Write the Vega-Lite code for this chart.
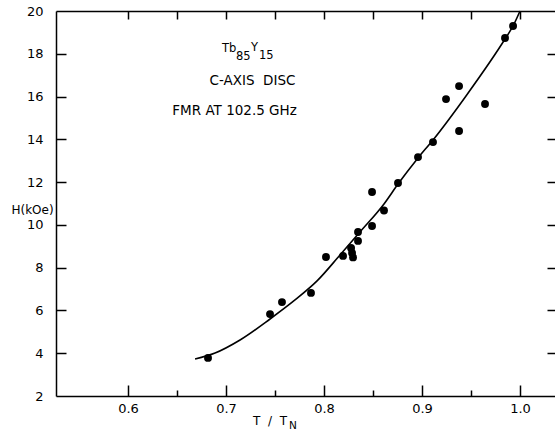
{
  "$schema": "https://vega.github.io/schema/vega-lite/v6.json",
  "width": 499,
  "height": 385,
  "autosize": {"type": "none"},
  "padding": {"left": 56, "top": 11, "right": 0, "bottom": 34},
  "background": "white",
  "view": {"stroke": null},
  "config": {
    "font": "DejaVu Sans",
    "axis": {"grid": false, "domainColor": "black", "tickColor": "black", "labelColor": "black", "titleColor": "black", "domainWidth": 1.5, "tickWidth": 1.5, "labelFont": "DejaVu Sans", "titleFont": "DejaVu Sans"}
  },
  "datasets": {
    "points": [
      {"t": 0.6816, "h": 3.78},
      {"t": 0.7449, "h": 5.83},
      {"t": 0.7571, "h": 6.39},
      {"t": 0.7867, "h": 6.82},
      {"t": 0.8020, "h": 8.50},
      {"t": 0.8194, "h": 8.55},
      {"t": 0.8276, "h": 8.92},
      {"t": 0.8286, "h": 8.69},
      {"t": 0.8296, "h": 8.48},
      {"t": 0.8347, "h": 9.25},
      {"t": 0.8347, "h": 9.67},
      {"t": 0.8490, "h": 9.95},
      {"t": 0.8490, "h": 11.54},
      {"t": 0.8612, "h": 10.67},
      {"t": 0.8755, "h": 11.96},
      {"t": 0.8959, "h": 13.17},
      {"t": 0.9112, "h": 13.87},
      {"t": 0.9245, "h": 15.88},
      {"t": 0.9378, "h": 16.49},
      {"t": 0.9378, "h": 14.39},
      {"t": 0.9643, "h": 15.65},
      {"t": 0.9847, "h": 18.74},
      {"t": 0.9929, "h": 19.30}
    ],
    "curve": [
      {"t": 0.6684, "h": 3.73},
      {"t": 0.6888, "h": 4.01},
      {"t": 0.7143, "h": 4.62},
      {"t": 0.7449, "h": 5.60},
      {"t": 0.7704, "h": 6.49},
      {"t": 0.7929, "h": 7.38},
      {"t": 0.8163, "h": 8.59},
      {"t": 0.8367, "h": 9.67},
      {"t": 0.8612, "h": 10.98},
      {"t": 0.8755, "h": 11.91},
      {"t": 0.8959, "h": 13.13},
      {"t": 0.9112, "h": 13.97},
      {"t": 0.9449, "h": 16.03},
      {"t": 0.9847, "h": 18.69},
      {"t": 0.9929, "h": 19.30},
      {"t": 1.0000, "h": 20.00}
    ]
  },
  "resolve": {"axis": {"x": "independent", "y": "independent"}},
  "layer": [
    {
      "data": {"name": "curve"},
      "mark": {"type": "line", "interpolate": "monotone", "color": "black", "strokeWidth": 1.6},
      "encoding": {
        "x": {"field": "t", "type": "quantitative", "scale": {"domain": [0.5265, 1.0357], "nice": false, "zero": false},
          "axis": {"orient": "bottom", "values": [0.6, 0.7, 0.8, 0.9, 1.0], "format": ".1f", "ticks": false, "labelPadding": 6, "labelFontSize": 13, "title": null}},
        "y": {"field": "h", "type": "quantitative", "scale": {"domain": [2, 20], "nice": false, "zero": false},
          "axis": {"orient": "left", "values": [2, 4, 6, 8, 10, 12, 14, 16, 18, 20], "ticks": false, "labelPadding": 13, "labelFontSize": 13, "title": "H(kOe)", "titleAngle": 0, "titleX": -24, "titleY": 198, "titleAlign": "center", "titleBaseline": "middle", "titleFontSize": 12, "titleFontWeight": "normal"}}
      }
    },
    {
      "data": {"name": "points"},
      "mark": {"type": "circle", "color": "black", "opacity": 1, "size": 62},
      "encoding": {
        "x": {"field": "t", "type": "quantitative",
          "axis": {"orient": "top", "values": [0.6, 0.65, 0.7, 0.75, 0.8, 0.85, 0.9, 0.95, 1.0], "tickSize": -8, "labels": false, "title": null}},
        "y": {"field": "h", "type": "quantitative",
          "axis": {"orient": "right", "values": [4, 6, 8, 10, 12, 14, 16, 18], "tickSize": -8, "labels": false, "domain": false, "title": null}}
      }
    },
    {
      "data": {"name": "points"},
      "mark": {"type": "point", "opacity": 0},
      "encoding": {
        "x": {"field": "t", "type": "quantitative",
          "axis": {"orient": "bottom", "values": [0.65, 0.75, 0.85, 0.95], "tickSize": -6, "labels": false, "domain": false, "title": null}},
        "y": {"field": "h", "type": "quantitative",
          "axis": {"orient": "left", "values": [4, 6, 8, 10, 12, 14, 16, 18], "tickSize": -10, "labels": false, "domain": false, "title": null}}
      }
    },
    {
      "data": {"name": "points"},
      "mark": {"type": "point", "opacity": 0},
      "encoding": {
        "x": {"field": "t", "type": "quantitative",
          "axis": {"orient": "bottom", "values": [0.6, 0.7, 0.8, 0.9, 1.0], "tickSize": -11, "labels": false, "domain": false, "title": null}},
        "y": {"field": "h", "type": "quantitative", "axis": null}
      }
    },
    {
      "data": {"values": [
        {"t": 0.6959, "h": 18.22, "label": "Tb"},
        {"t": 0.7255, "h": 18.25, "label": "Y"}
      ]},
      "mark": {"type": "text", "align": "left", "baseline": "middle", "fontSize": 11.5, "color": "black"},
      "encoding": {
        "x": {"field": "t", "type": "quantitative", "axis": null},
        "y": {"field": "h", "type": "quantitative", "axis": null},
        "text": {"field": "label"}
      }
    },
    {
      "data": {"values": [
        {"t": 0.7102, "h": 17.85, "label": "85"},
        {"t": 0.7337, "h": 17.90, "label": "15"}
      ]},
      "mark": {"type": "text", "align": "left", "baseline": "middle", "fontSize": 11.5, "color": "black"},
      "encoding": {
        "x": {"field": "t", "type": "quantitative", "axis": null},
        "y": {"field": "h", "type": "quantitative", "axis": null},
        "text": {"field": "label"}
      }
    },
    {
      "data": {"values": [
        {"t": 0.7270, "h": 16.73, "label": "C-AXIS\u00a0 DISC"},
        {"t": 0.7087, "h": 15.32, "label": "FMR AT 102.5 GHz"}
      ]},
      "mark": {"type": "text", "align": "center", "baseline": "middle", "fontSize": 13.5, "color": "black"},
      "encoding": {
        "x": {"field": "t", "type": "quantitative", "axis": null},
        "y": {"field": "h", "type": "quantitative", "axis": null},
        "text": {"field": "label"}
      }
    },
    {
      "data": {"values": [
        {"t": 0.7276, "h": 0.83, "label": "T \u00a0/\u00a0 T"}
      ]},
      "mark": {"type": "text", "align": "left", "baseline": "middle", "fontSize": 12, "color": "black"},
      "encoding": {
        "x": {"field": "t", "type": "quantitative", "axis": null},
        "y": {"field": "h", "type": "quantitative", "axis": null},
        "text": {"field": "label"}
      }
    },
    {
      "data": {"values": [
        {"t": 0.7643, "h": 0.62, "label": "N"}
      ]},
      "mark": {"type": "text", "align": "left", "baseline": "middle", "fontSize": 10.5, "color": "black"},
      "encoding": {
        "x": {"field": "t", "type": "quantitative", "axis": null},
        "y": {"field": "h", "type": "quantitative", "axis": null},
        "text": {"field": "label"}
      }
    }
  ]
}
